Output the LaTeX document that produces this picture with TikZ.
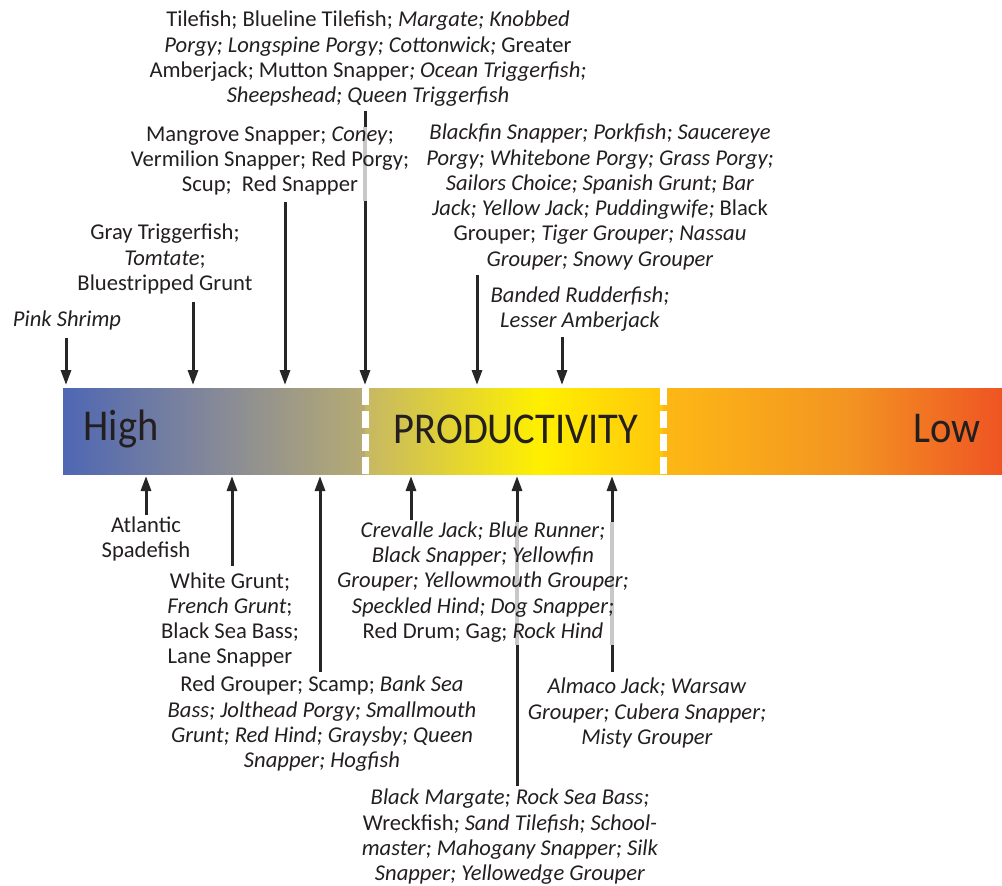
\documentclass[tikz,border=0pt]{standalone}
\usepackage{fontspec}
\setmainfont{Carlito}
\usetikzlibrary{arrows.meta}
\definecolor{txt}{HTML}{231F20}
\definecolor{cA}{HTML}{4F67B4}
\definecolor{cB}{HTML}{8A8C95}
\definecolor{cC}{HTML}{B6AB72}
\definecolor{cD}{HTML}{C6B765}
\definecolor{cE}{HTML}{FFF000}
\definecolor{cF}{HTML}{FFC60C}
\definecolor{cG}{HTML}{FDB815}
\definecolor{cH}{HTML}{F39422}
\definecolor{cI}{HTML}{EF5423}
\definecolor{ghost}{HTML}{C8C8C8}
\begin{document}
\begin{tikzpicture}[x=1pt,y=-1pt,
  lbl/.style={align=center,inner sep=0pt,text=txt,font=\fontsize{22.6}{25.3}\selectfont},
  barlbl/.style={inner sep=0pt,text=txt,font=\fontsize{44}{44}\selectfont,xscale=0.92,transform shape},
  arr/.style={line width=3pt,-{Triangle[length=15pt,width=10pt]},black!85},
  ghostseg/.style={line width=3.2pt,ghost}]
\useasboundingbox (0,0) rectangle (1002,886);
% bar
\shade[left color=cA,right color=cB] (63,388) rectangle (230,474);
\shade[left color=cB,right color=cC] (229.5,388) rectangle (365,474);
\shade[left color=cD,right color=cE] (365,388) rectangle (540,474);
\shade[left color=cE,right color=cF] (539.5,388) rectangle (663,474);
\shade[left color=cG,right color=cH] (663,388) rectangle (850,474);
\shade[left color=cH,right color=cI] (849.5,388) rectangle (1002,474);
\draw[white,line width=7pt,dash pattern=on 17pt off 6pt] (365.5,388) -- (365.5,474);
\draw[white,line width=7pt,dash pattern=on 17pt off 6pt] (663.5,388) -- (663.5,474);
\node[barlbl] (high) at (121,429) {High};
\node[barlbl] (prod) at (516,429) {PRODUCTIVITY};
\node[barlbl] (low) at (947,429) {Low};
% arrow end points on the bar
\coordinate (t1) at (66,385); \coordinate (t2) at (193,385); \coordinate (t3) at (285,385);
\coordinate (t4) at (365,385); \coordinate (t5) at (477,385); \coordinate (t6) at (562,385);
\coordinate (b1) at (146,476); \coordinate (b2) at (232,476); \coordinate (b3) at (320,476);
\coordinate (b4) at (411,476); \coordinate (b5) at (517,476); \coordinate (b6) at (612,476);
% arrow start points
\coordinate (s1) at (66,338); \coordinate (s2) at (193,302); \coordinate (s3) at (285,202);
\coordinate (s4) at (365,111); \coordinate (s5) at (477,275); \coordinate (s6) at (562,337);
\coordinate (u1) at (146,515); \coordinate (u2) at (232,566); \coordinate (u3) at (320,672);
\coordinate (u4) at (411,520); \coordinate (u5) at (517,786); \coordinate (u6) at (612,672);
\coordinate (g4a) at (365,127); \coordinate (g4b) at (365,201);
\coordinate (g5a) at (517,522); \coordinate (g5b) at (517,645);
\coordinate (g6a) at (612,522); \coordinate (g6b) at (612,645);
\foreach \i in {1,...,6} {\draw[arr] (s\i) -- (t\i); \draw[arr] (u\i) -- (b\i);}
\draw[ghostseg] (g4a) -- (g4b);
\draw[ghostseg] (g5a) -- (g5b);
\draw[ghostseg] (g6a) -- (g6b);
% labels above
\node[lbl] (tile) at (368,59) {Tilefish; Blueline Tilefish; \textit{Margate; Knobbed}\\\textit{Porgy; Longspine Porgy; Cottonwick;} Greater\\Amberjack; Mutton Snapper\textit{; Ocean Triggerfish;}\\\textit{Sheepshead; Queen Triggerfish}};
\node[lbl] (mang) at (270,161) {Mangrove Snapper; \textit{Coney};\\Vermilion Snapper; Red Porgy;\\Scup;\ \ Red Snapper};
\node[lbl] (gray) at (165,259) {Gray Triggerfish;\\\textit{Tomtate};\\Bluestripped Grunt};
\node[lbl] (pink) at (67,320) {\textit{Pink Shrimp}};
\node[lbl] (blackfin) at (600,197) {\textit{Blackfin Snapper; Porkfish; Saucereye}\\\textit{Porgy; Whitebone Porgy; Grass Porgy;}\\\textit{Sailors Choice; Spanish Grunt; Bar}\\\textit{Jack; Yellow Jack; Puddingwife;} Black\\Grouper; \textit{Tiger Grouper; Nassau}\\\textit{Grouper; Snowy Grouper}};
\node[lbl] (banded) at (580,309) {\textit{Banded Rudderfish;}\\\textit{Lesser Amberjack}};
% labels below
\node[lbl] (spade) at (146,539) {Atlantic\\Spadefish};
\node[lbl] (white) at (230,620) {White Grunt;\\\textit{French Grunt};\\Black Sea Bass;\\Lane Snapper};
\node[lbl] (redg) at (322,724) {Red Grouper; Scamp; \textit{Bank Sea}\\\textit{Bass; Jolthead Porgy; Smallmouth}\\\textit{Grunt; Red Hind; Graysby; Queen}\\\textit{Snapper; Hogfish}};
\node[lbl] (crev) at (483,582) {\textit{Crevalle Jack; Blue Runner;}\\\textit{Black Snapper; Yellowfin}\\\textit{Grouper; Yellowmouth Grouper;}\\\textit{Speckled Hind; Dog Snapper;}\\Red Drum; Gag; \textit{Rock Hind}};
\node[lbl] (almaco) at (647,713) {\textit{Almaco Jack; Warsaw}\\\textit{Grouper; Cubera Snapper;}\\\textit{Misty Grouper}};
\node[lbl] (margate) at (510,837) {\textit{Black Margate; Rock Sea Bass;}\\Wreckfish\textit{; Sand Tilefish; School-}\\\textit{master; Mahogany Snapper; Silk}\\\textit{Snapper; Yellowedge Grouper}};
\end{tikzpicture}
\end{document}
